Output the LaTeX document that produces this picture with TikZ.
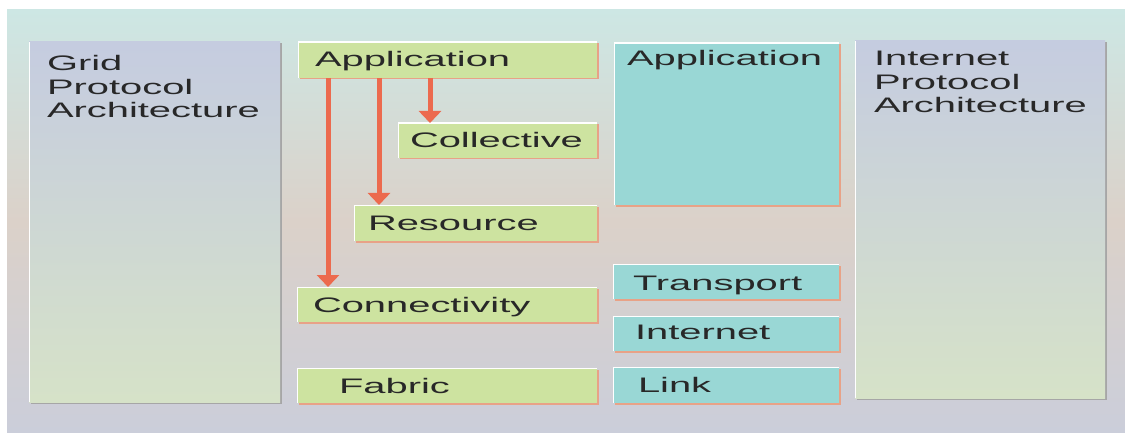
\documentclass[tikz,border=0pt]{standalone}
\usepackage{fontspec}
\usepackage{xcolor}
\usepackage{tikz}
\usetikzlibrary{positioning,shadows,arrows.meta}

\newfontfamily\layerfont[FakeStretch=1.9]{Liberation Sans}

\definecolor{bgtop}{RGB}{205,231,228}
\definecolor{bgmid}{RGB}{219,209,201}
\definecolor{bgbot}{RGB}{203,206,218}
\definecolor{archtop}{RGB}{197,204,224}
\definecolor{archbot}{RGB}{214,226,200}
\definecolor{gridgreen}{RGB}{205,227,160}
\definecolor{netcyan}{RGB}{153,215,213}
\definecolor{callred}{RGB}{236,106,78}
\definecolor{rimorange}{RGB}{232,162,135}
\definecolor{labelgrey}{RGB}{40,40,40}

\begin{document}
\begin{tikzpicture}
[x=1pt, y=-1pt,
    every node/.style={inner sep=0pt, outer sep=0pt},
    layer/.style={anchor=north west, rectangle, draw=none,
        drop shadow={shadow xshift=1.5pt, shadow yshift=-1.5pt,
            fill=rimorange, opacity=1},
        path picture={\draw[white, line width=2pt]
            (path picture bounding box.south west) |-
            (path picture bounding box.north east);}},
    gridlayer/.style={layer, fill=gridgreen},
    netlayer/.style={layer, fill=netcyan},
    arch/.style={anchor=north west, rectangle, top color=archtop,
        bottom color=archbot,
        drop shadow={shadow xshift=2pt, shadow yshift=-1.5pt,
            fill=black!35, opacity=1},
        path picture={\draw[white, line width=2pt]
            (path picture bounding box.south west) --
            (path picture bounding box.north west);}},
    layertext/.style={anchor=base west, text=labelgrey,
        font=\layerfont\fontsize{21}{23.5}\selectfont, align=left},
    call/.style={draw=callred, line width=5pt,
        -{Triangle[width=22pt, length=12pt]}}
    ]

    % backdrop (middle color last, bottom color would reset it)
    \useasboundingbox (0,0) rectangle (1125,433);
    \shade[top color=bgtop, bottom color=bgbot, middle color=bgmid]
        (7,10) rectangle (1125,433);

    % the two architectures
    \node[arch, minimum width=251pt, minimum height=360pt] (grid) at (29,42) {};
    \node[layertext, text width=220pt] (grid-t) at ([xshift=18pt, yshift=-29pt]grid.north west)
        {Grid\\Protocol\\Architecture};
    \node[arch, minimum width=250pt, minimum height=357pt] (inet) at (855,41) {};
    \node[layertext, text width=220pt] (inet-t) at ([xshift=19pt, yshift=-25pt]inet.north west)
        {Internet\\Protocol\\Architecture};

    % grid layers
    \node[gridlayer, minimum width=299pt, minimum height=36pt] (app) at (298,42) {};
    \node[layertext] (app-t) at ([xshift=17pt, yshift=11pt]app.south west) {Application};
    \node[gridlayer, minimum width=199pt, minimum height=35pt] (coll) at (398,123) {};
    \node[layertext] (coll-t) at ([xshift=12pt, yshift=10pt]coll.south west) {Collective};
    \node[gridlayer, minimum width=243pt, minimum height=36pt] (res) at (354,205) {};
    \node[layertext] (res-t) at ([xshift=14pt, yshift=11pt]res.south west) {Resource};
    \node[gridlayer, minimum width=300pt, minimum height=35pt] (conn) at (297,287) {};
    \node[layertext] (conn-t) at ([xshift=16pt, yshift=9.5pt]conn.south west) {Connectivity};
    \node[gridlayer, minimum width=300pt, minimum height=35pt] (fab) at (297,368) {};
    \node[layertext] (fab-t) at ([xshift=42pt, yshift=10pt]fab.south west) {Fabric};

    % internet layers
    \node[netlayer, minimum width=225pt, minimum height=162pt] (iapp) at (614,43) {};
    \node[layertext] (iapp-t) at ([xshift=13pt, yshift=-23pt]iapp.north west) {Application};
    \node[netlayer, minimum width=226pt, minimum height=35pt] (trans) at (613,264) {};
    \node[layertext] (trans-t) at ([xshift=20pt, yshift=9pt]trans.south west) {Transport};
    \node[netlayer, minimum width=226pt, minimum height=35pt] (ip) at (613,316) {};
    \node[layertext] (ip-t) at ([xshift=22pt, yshift=12pt]ip.south west) {Internet};
    \node[netlayer, minimum width=226pt, minimum height=36pt] (link) at (613,367) {};
    \node[layertext] (link-t) at ([xshift=25pt, yshift=11pt]link.south west) {Link};

    % application calls down the grid stack
    \draw[call] ([xshift=30pt]app.south west) -- ([xshift=30pt]app.south west |- conn.north);
    \draw[call] ([xshift=81pt]app.south west) -- ([xshift=81pt]app.south west |- res.north);
    \draw[call] ([xshift=132pt]app.south west) -- ([xshift=132pt]app.south west |- coll.north);
\end{tikzpicture}
\end{document}
